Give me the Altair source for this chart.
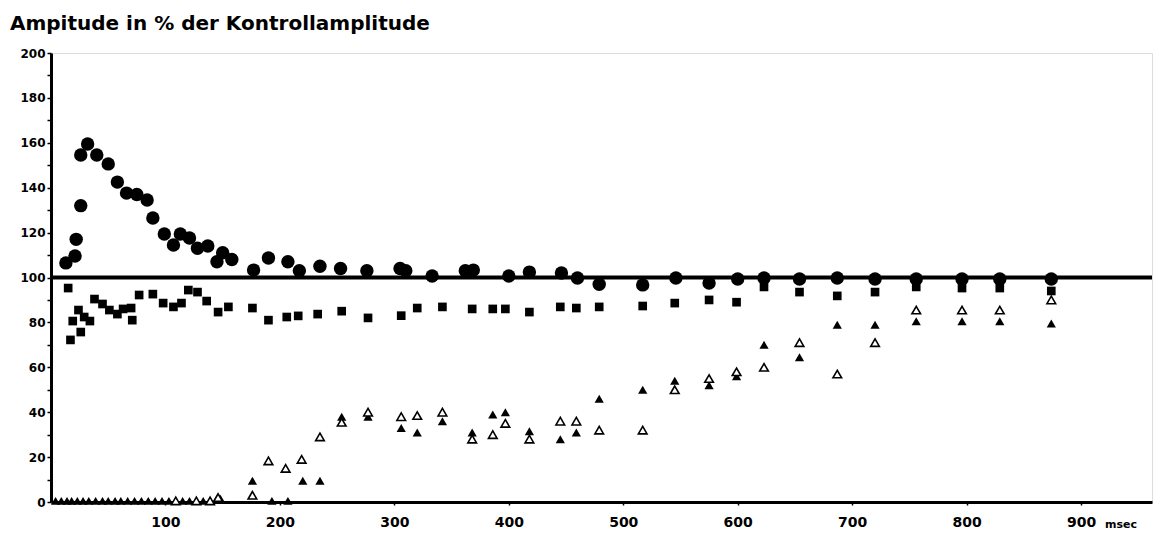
import altair as alt
import pandas as pd

# ---------------- data ----------------
circle_t = [13, 21, 22, 26, 26, 32, 40, 50, 58, 66, 75, 84, 89, 99, 107, 113, 121, 128, 137, 145, 150, 158,
            177, 190, 207, 217, 235, 253, 276, 305, 310, 333, 362, 369, 400, 418, 446, 460, 479, 517, 546,
            575, 600, 623, 654, 687, 720, 756, 796, 829, 874]
circle_v = [106.5, 109.6, 117, 132, 154.6, 159.5, 154.6, 150.6, 142.5, 137.6, 137, 134.5, 126.5, 119.4, 114.5,
            119.4, 117.6, 113, 114, 107, 111, 108, 103.3, 108.7, 107, 103, 105, 104, 103, 104, 103, 100.7,
            103, 103.3, 100.7, 102.4, 102, 99.8, 97, 96.7, 99.8, 97.5, 99.3, 99.8, 99.3, 99.8, 99.3, 99.3,
            99.3, 99.3, 99.3]

square_t = [15, 17, 19, 24, 26, 29, 34, 38, 45, 51, 58, 63, 70, 71, 77, 89, 98, 107, 114, 120, 128, 136, 146,
            155, 176, 190, 206, 216, 233, 254, 277, 306, 320, 342, 368, 386, 397, 418, 445, 459, 479, 517,
            545, 575, 599, 623, 654, 687, 720, 756, 796, 829, 874]
square_v = [95.3, 72.2, 80.6, 85.5, 75.7, 82.4, 80.6, 90.4, 88.2, 85.5, 83.7, 86, 86.4, 81, 92.2, 92.6, 88.6,
            86.9, 88.6, 94.4, 93.5, 89.5, 84.6, 86.9, 86.4, 81, 82.4, 82.9, 83.7, 85, 82, 83, 86.4, 86.9, 86,
            86, 86, 84.6, 86.9, 86.4, 86.9, 87.3, 88.6, 90, 89, 95.8, 93.5, 91.8, 93.5, 95.8, 95.3, 95.3, 94]

tri_filled_t = [4, 9, 14, 18, 23, 28, 33, 39, 45, 50, 56, 61, 67, 73, 79, 85, 91, 97, 103, 115, 121, 133,
                148, 176, 193, 207, 220, 235, 254, 277, 306, 320, 342, 368, 386, 397, 418, 445, 459, 479,
                517, 545, 575, 599, 623, 654, 687, 720, 756, 796, 829, 874]
tri_filled_v = [0.5, 0.5, 0.5, 0.5, 0.5, 0.5, 0.5, 0.5, 0.5, 0.5, 0.5, 0.5, 0.5, 0.5, 0.5, 0.5, 0.5, 0.5, 0.5,
                0.5, 0.5, 0.5, 1.5, 9.5, 0.5, 0.5, 9.5, 9.5, 38, 38, 33, 31, 36, 31, 39, 40, 31.5, 28, 31, 46,
                50, 54, 52, 56, 70, 64.5, 79, 79, 80.5, 80.5, 80.5, 79.5]

tri_open_t = [109, 127, 139, 146, 176, 190, 205, 219, 235, 254, 277, 306, 320, 342, 368, 386, 397, 418, 445,
              459, 479, 517, 545, 575, 599, 623, 654, 687, 720, 756, 796, 829, 874]
tri_open_v = [0.5, 0.5, 0.5, 2, 3, 18.3, 15, 19, 29, 35.5, 40, 38, 38.5, 40, 28, 30, 35, 28, 36, 36, 32, 32,
              50, 55, 58, 60, 71, 57, 71, 85.5, 85.5, 85.5, 90]

x_ticks = [100, 200, 300, 400, 500, 600, 700, 800, 900]
y_ticks = [0, 10, 20, 30, 40, 50, 60, 70, 80, 90, 100, 110, 120, 130, 140, 150, 160, 170, 180, 190, 200]
reference_level = [100]

FONT = "DejaVu Sans"

circles = pd.DataFrame({"t": circle_t, "v": circle_v})
squares = pd.DataFrame({"t": square_t, "v": square_v})
tri_f = pd.DataFrame({"t": tri_filled_t, "v": tri_filled_v})
tri_o = pd.DataFrame({"t": tri_open_t, "v": tri_open_v})
ref = pd.DataFrame({"t": [0], "v": reference_level})
unit = pd.DataFrame({"t": [900], "v": [0], "label": ["msec"]})

x_enc = alt.X(
    "t:Q",
    title=None,
    scale=alt.Scale(domain=[0, 962], nice=False, zero=False),
    axis=alt.Axis(values=x_ticks, grid=False, domainColor="black", domainWidth=3,
                  tickColor="black", tickSize=3, tickWidth=1.5,
                  labelFont=FONT, labelFontSize=14, labelFontWeight="bold", labelColor="black",
                  labelPadding=10, labelFlush=False),
)
y_enc = alt.Y(
    "v:Q",
    title=None,
    scale=alt.Scale(domain=[0, 200], nice=False),
    axis=alt.Axis(values=y_ticks, grid=False, domainColor="black", domainWidth=3,
                  tickColor="black", tickSize=4, tickWidth=1.5,
                  labelExpr="datum.value % 20 == 0 ? datum.label : ''",
                  labelFont=FONT, labelFontSize=12, labelFontWeight="bold", labelColor="black",
                  labelPadding=2),
)

rule = alt.Chart(ref).mark_rule(color="black", strokeWidth=4).encode(y=y_enc)

circ = alt.Chart(circles).mark_point(shape="circle", filled=True, color="black", opacity=1, size=180).encode(x=x_enc, y=y_enc)
sq = alt.Chart(squares).mark_point(shape="square", filled=True, color="black", opacity=1, size=75).encode(x=x_enc, y=y_enc)
tf = alt.Chart(tri_f).mark_point(shape="triangle-up", filled=True, color="black", opacity=1, size=85).encode(x=x_enc, y=y_enc)
to = alt.Chart(tri_o).mark_point(shape="triangle-up", filled=True, fill="white", stroke="black",
                                 strokeWidth=1.6, opacity=1, size=75).encode(x=x_enc, y=y_enc)

msec = alt.Chart(unit).mark_text(align="left", baseline="alphabetic", dx=24, dy=26, font=FONT,
                                 fontSize=11, fontWeight="bold", color="black").encode(x=x_enc, y=y_enc, text="label:N")

chart = alt.layer(rule, sq, circ, tf, to, msec).properties(
    width=1101,
    height=449,
    title=alt.TitleParams("Ampitude in % der Kontrollamplitude", anchor="start", font=FONT, fontSize=20,
                          fontWeight="bold", color="black", dx=-10, offset=-3, baseline="alphabetic"),
    autosize=alt.AutoSizeParams(type="none"),
    padding={"left": 51, "top": 53, "right": 8, "bottom": 39},
).configure_view(stroke=None).configure(background="white")

chart.save("out.html", embed_options={"renderer": "svg", "actions": False})
